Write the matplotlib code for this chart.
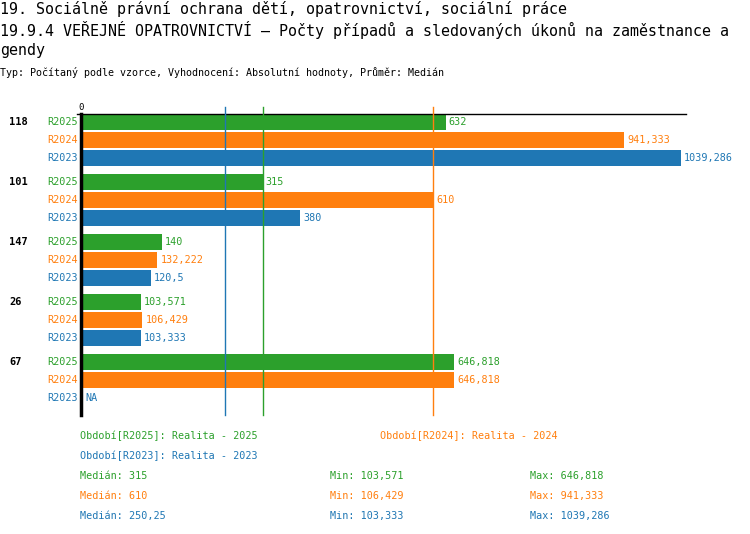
import numpy as np
import matplotlib.pyplot as plt

# data
groups = ['118', '101', '147', '26', '67']
series = ['R2025', 'R2024', 'R2023']
colors = ['#2ca02c', '#ff7f0e', '#1f77b4']
v2025 = [632, 315, 140, 103.571, 646.818]
v2024 = [941.333, 610, 132.222, 106.429, 646.818]
v2023 = [1039.286, 380, 120.5, 103.333, None]
medians = [315, 610, 250.25]
mins = ['103,571', '106,429', '103,333']
maxs = ['646,818', '941,333', '1039,286']
legend_txt = ['Období[R2025]: Realita - 2025',
              'Období[R2024]: Realita - 2024',
              'Období[R2023]: Realita - 2023']

title1 = '19. Sociálně právní ochrana dětí, opatrovnictví, sociální práce'
title2 = '19.9.4 VEŘEJNÉ OPATROVNICTVÍ – Počty případů a sledovaných úkonů na zaměstnance a'
title3 = 'gendy'
subtitle = 'Typ: Počítaný podle vzorce, Vyhodnocení: Absolutní hodnoty, Průměr: Medián'

plt.rcParams['font.family'] = ['DejaVu Sans Mono']

def fmt(v):
    s = ('%.3f' % v).rstrip('0').rstrip('.')
    return s.replace('.', ',')

W, H = 750, 534
fig = plt.figure(figsize=(7.5, 5.34), dpi=100)
ax_l, ax_r, ax_t, ax_b = 81, 686, 114, 415
ax = fig.add_axes([ax_l / W, 1 - ax_b / H, (ax_r - ax_l) / W, (ax_b - ax_t) / H])
xmax = 1048
ax.set_xlim(0, xmax)
ax.set_ylim(293, -8)
for s in ['right', 'bottom']:
    ax.spines[s].set_visible(False)
ax.spines['left'].set_linewidth(2.5)
ax.spines['top'].set_linewidth(1)
ax.set_xticks([])
ax.set_yticks([])

px = xmax / (ax_r - ax_l)  # data units per pixel

vals = [v2025, v2024, v2023]
for i, g in enumerate(groups):
    y0 = i * 60
    ax.text(-72 * px, y0, g, ha='left', va='center', fontsize=7.5, fontweight='bold', clip_on=False)
    for j in range(3):
        y = y0 + j * 18
        v = vals[j][i]
        ax.text(-3 * px, y, series[j], ha='right', va='center', fontsize=7.3,
                color=colors[j], clip_on=False)
        if v is None:
            ax.text(4 * px, y, 'NA', ha='left', va='center', fontsize=7.3, color=colors[j])
            continue
        ax.barh(y, v, height=16, color=colors[j], left=0)
        ax.text(v + 3 * px, y, fmt(v), ha='left', va='center', fontsize=7.3,
                color=colors[j], clip_on=False)

for m, c in zip(medians, colors):
    ax.plot([m, m], [-15, 293], color=c, lw=1, clip_on=False, zorder=5)

ax.text(0, -10, '0', ha='center', va='bottom', fontsize=6.5, clip_on=False)
ax.plot([-4 * px, 0], [-8, -8], color='black', lw=1, clip_on=False)

# titles
fig.text(0, 1 - 9 / H, title1, fontsize=10.8, va='center', ha='left')
fig.text(0, 1 - 30 / H, title2, fontsize=10.8, va='center', ha='left')
fig.text(0, 1 - 51 / H, title3, fontsize=10.8, va='center', ha='left')
fig.text(0, 1 - 73 / H, subtitle, fontsize=7.2, va='center', ha='left')

# legend / stats
fig.text(80 / W, 1 - 436 / H, legend_txt[0], fontsize=7.3, color=colors[0], va='center')
fig.text(380 / W, 1 - 436 / H, legend_txt[1], fontsize=7.3, color=colors[1], va='center')
fig.text(80 / W, 1 - 456 / H, legend_txt[2], fontsize=7.3, color=colors[2], va='center')
for k in range(3):
    yy = 1 - (476 + 20 * k) / H
    fig.text(80 / W, yy, 'Medián: ' + fmt(medians[k]), fontsize=7.3, color=colors[k], va='center')
    fig.text(330 / W, yy, 'Min: ' + mins[k], fontsize=7.3, color=colors[k], va='center')
    fig.text(530 / W, yy, 'Max: ' + maxs[k], fontsize=7.3, color=colors[k], va='center')

fig.savefig('out.png', dpi=100)
